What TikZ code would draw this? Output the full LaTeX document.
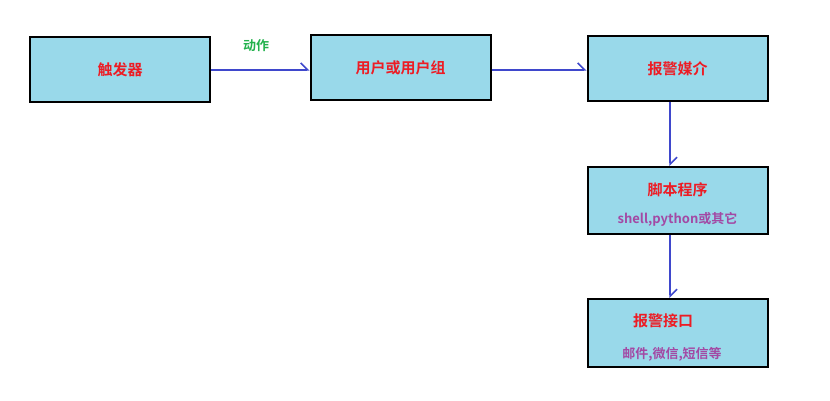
\documentclass[tikz,border=0pt]{standalone}
\usepackage{fontspec}
\setmainfont{Noto Sans CJK SC}[BoldFont={Noto Sans CJK SC Bold}]
\usetikzlibrary{arrows.meta}
\definecolor{boxfill}{HTML}{99D9EA}
\definecolor{tred}{HTML}{ED1C24}
\definecolor{tpur}{HTML}{A349A4}
\definecolor{tgrn}{HTML}{22B14C}
\definecolor{ablue}{HTML}{3F48CC}
\begin{document}
\begin{tikzpicture}[x=1pt,y=-1pt,
  box/.style={draw=black,line width=2pt,fill=boxfill,minimum width=180pt,minimum height=65pt,inner sep=0pt},
  main/.style={text=tred,font=\bfseries\fontsize{15}{18}\selectfont},
  sub/.style={text=tpur,font=\bfseries\fontsize{13}{16}\selectfont},
  arr/.style={draw=ablue,line width=1.5pt,-{Straight Barb[left,length=7pt,width=14pt]}}]
\useasboundingbox (0,0) rectangle (830,401);
\node[box] (a) at (120,70) {};
\node[main] at (a.center) {触发器};
\node[box] (b) at (400.5,67.5) {};
\node[main] at (b.center) {用户或用户组};
\node[box] (c) at (677.5,68.5) {};
\node[main] at (c.center) {报警媒介};
\node[box,minimum height=67pt] (d) at (677.5,200.5) {};
\node[main] (dt) at (677.5,190) {脚本程序};
\node[sub] (ds) at (677.5,219) {shell,python或其它};
\node[box,minimum height=68pt] (e) at (677.5,333) {};
\node[main] (et) at (663,321) {报警接口};
\node[sub] (es) at (672,354) {邮件,微信,短信等};
\node[text=tgrn,font=\bfseries\fontsize{13}{16}\selectfont] (l) at (256,46) {动作};
\draw[arr] (a.east |- 0,70) -- (b.west |- 0,70);
\draw[arr] (b.east |- 0,70) -- (c.west |- 0,70);
\draw[arr] (c.south -| 670,0) -- (d.north -| 670,0);
\draw[arr] (d.south -| 670,0) -- (e.north -| 670,0);
\end{tikzpicture}
\end{document}
